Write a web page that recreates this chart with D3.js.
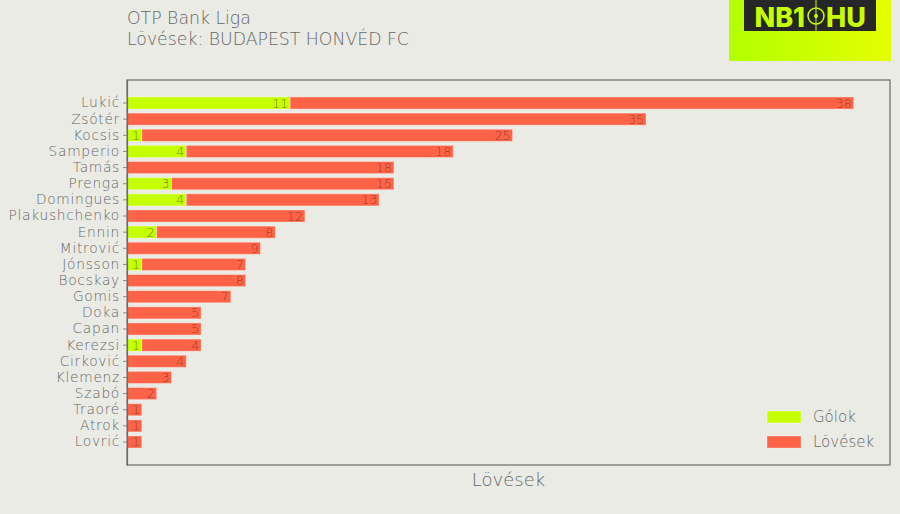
<!DOCTYPE html>
<html>
<head>
<meta charset="utf-8">
<script src="https://cdn.jsdelivr.net/npm/d3@7"></script>
<style>
  html, body { margin: 0; padding: 0; background: #ebebe6; }
  svg { display: block; }
  text { font-family: "DejaVu Sans", sans-serif; font-weight: 200; }
</style>
</head>
<body>
<svg id="chart" width="900" height="514"></svg>
<script>
const players = ["Lukić","Zsótér","Kocsis","Samperio","Tamás","Prenga","Domingues","Plakushchenko","Ennin","Mitrović","Jónsson","Bocskay","Gomis","Doka","Capan","Kerezsi","Cirković","Klemenz","Szabó","Traoré","Atrok","Lovrić"];
const goals  = [11,0,1,4,0,3,4,0,2,0,1,0,0,0,0,1,0,0,0,0,0,0];
const shots  = [38,35,25,18,18,15,13,12,8,9,7,8,7,5,5,4,4,3,2,1,1,1];
const seriesNames = ["Gólok","Lövések"];
const titleLines = ["OTP Bank Liga","Lövések: BUDAPEST HONVÉD FC"];
const xTitle = "Lövések";

const colGoal = "#c6ff00", colShot = "#ff6347", textCol = "#666666";
const svg = d3.select("#chart");
const W = 900, H = 514;
const panel = {left: 127, right: 890, top: 80, bottom: 465};

svg.append("rect").attr("width", W).attr("height", H).attr("fill", "#ebebe6");

const maxTotal = d3.max(players, (p, i) => goals[i] + shots[i]);
const x = d3.scaleLinear().domain([0, maxTotal * 1.05]).range([panel.left, panel.right]);
const y = d3.scaleBand().domain(players).range([panel.top, panel.bottom])
  .paddingInner(0.25).paddingOuter(1.05);

// panel frame
svg.append("rect").attr("x", panel.left).attr("y", panel.top)
  .attr("width", panel.right - panel.left).attr("height", panel.bottom - panel.top)
  .attr("fill", "none").attr("stroke", "#6a6a6a").attr("stroke-width", 1.2);

const data = players.map((p, i) => ({p, g: goals[i], s: shots[i]}));

const rows = svg.append("g").selectAll("g").data(data).join("g");
rows.filter(d => d.g > 0).append("rect")
  .attr("x", x(0)).attr("y", d => y(d.p))
  .attr("width", d => x(d.g) - x(0)).attr("height", y.bandwidth())
  .attr("fill", colGoal).attr("stroke", "rgba(255,255,255,0.35)").attr("stroke-width", 1);
rows.append("rect")
  .attr("x", d => x(d.g)).attr("y", d => y(d.p))
  .attr("width", d => x(d.g + d.s) - x(d.g)).attr("height", y.bandwidth())
  .attr("fill", colShot).attr("stroke", "rgba(255,255,255,0.35)").attr("stroke-width", 1);
rows.filter(d => d.g > 0).append("text")
  .attr("x", d => x(d.g) - 2).attr("y", d => y(d.p) + y.bandwidth() / 2)
  .attr("dy", "0.36em").attr("text-anchor", "end").attr("font-size", 12.5)
  .attr("fill", "#6f8c00").text(d => d.g);
rows.append("text")
  .attr("x", d => x(d.g + d.s) - 2).attr("y", d => y(d.p) + y.bandwidth() / 2)
  .attr("dy", "0.36em").attr("text-anchor", "end").attr("font-size", 12.5)
  .attr("fill", "#a33d2a").text(d => d.s);

// y axis
const yAxis = svg.append("g").attr("transform", `translate(${panel.left},0)`)
  .call(d3.axisLeft(y).tickSizeInner(4).tickSizeOuter(0).tickPadding(3));
yAxis.select(".domain").attr("stroke", "#6a6a6a").attr("stroke-width", 1.2);
yAxis.selectAll(".tick line").attr("stroke", "#888");
yAxis.selectAll(".tick text").attr("font-size", 13.8).attr("fill", textCol)
  .attr("letter-spacing", 0.7)
  .attr("font-family", "'DejaVu Sans', sans-serif").attr("font-weight", 200);

// x axis title
svg.append("text").attr("x", (panel.left + panel.right) / 2).attr("y", 486)
  .attr("text-anchor", "middle").attr("font-size", 18).attr("fill", textCol).text(xTitle);

// title
svg.selectAll(".title").data(titleLines).join("text").attr("class", "title")
  .attr("x", panel.left).attr("y", (d, i) => 24 + i * 21)
  .attr("font-size", 17.3).attr("fill", textCol).text(d => d);

// legend
const legCols = [colGoal, colShot];
const leg = svg.append("g").selectAll("g").data(seriesNames).join("g")
  .attr("transform", (d, i) => `translate(767,${411 + i * 25})`);
leg.append("rect").attr("width", 34).attr("height", 12).attr("fill", (d, i) => legCols[i])
  .attr("stroke", "rgba(255,255,255,0.35)");
leg.append("text").attr("x", 46).attr("y", 6).attr("dy", "0.36em")
  .attr("font-size", 15).attr("fill", textCol).text(d => d);

// logo
const defs = svg.append("defs");
const grad = defs.append("linearGradient").attr("id", "lg").attr("x1", "0").attr("x2", "1");
grad.append("stop").attr("offset", "0").attr("stop-color", "#b2ff00");
grad.append("stop").attr("offset", "1").attr("stop-color", "#e4ff00");
const logo = svg.append("g");
logo.append("rect").attr("x", 729).attr("y", 0).attr("width", 162).attr("height", 61).attr("fill", "url(#lg)");
logo.append("rect").attr("x", 744).attr("y", 0).attr("width", 132).attr("height", 31).attr("fill", "#262626");
logo.append("text").attr("x", 805).attr("y", 27).attr("text-anchor", "end")
  .style("font-family", "Inter, 'DejaVu Sans', sans-serif").style("font-weight", 800).attr("font-size", 27)
  .attr("fill", "#c6ff00").text("NB1");
logo.append("text").attr("x", 826).attr("y", 27).attr("text-anchor", "start")
  .style("font-family", "Inter, 'DejaVu Sans', sans-serif").style("font-weight", 800).attr("font-size", 27)
  .attr("fill", "#c6ff00").text("HU");
logo.append("line").attr("x1", 816).attr("x2", 816).attr("y1", 0).attr("y2", 31)
  .attr("stroke", "#c6ff00").attr("stroke-width", 1);
logo.append("circle").attr("cx", 816).attr("cy", 16).attr("r", 8)
  .attr("fill", "none").attr("stroke", "#c6ff00").attr("stroke-width", 1.5);
logo.append("circle").attr("cx", 816).attr("cy", 16).attr("r", 2).attr("fill", "#c6ff00");
</script>
</body>
</html>
